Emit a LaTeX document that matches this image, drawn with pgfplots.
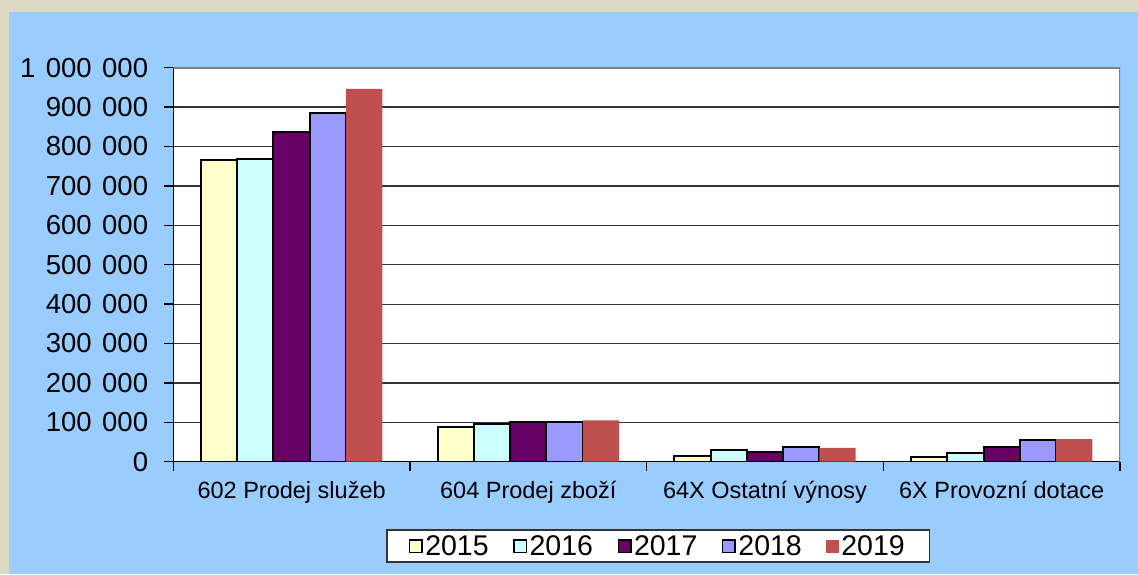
\documentclass[border=0pt]{standalone}
\usepackage{pgfplots}
\pgfplotsset{compat=1.18}
\usepackage{fontspec}
\setmainfont{Liberation Sans}

\definecolor{frame}{HTML}{DDD8C2}
\definecolor{sky}{HTML}{99CCFF}
\definecolor{c2015}{HTML}{FFFFCC}
\definecolor{c2016}{HTML}{CCFFFF}
\definecolor{c2017}{HTML}{660066}
\definecolor{c2018}{HTML}{9999FF}
\definecolor{c2019}{HTML}{C0504D}

\newcommand{\gap}{\hspace{0.38em}}

\begin{document}
\begin{tikzpicture}[x=1pt,y=1pt]
\useasboundingbox (0,0) rectangle (1138,574);
\fill[frame] (0,0) rectangle (1138,574);
\fill[sky] (9,0) rectangle (1138,561.5);
\begin{axis}[
    at={(173.3pt,112.3pt)}, anchor=south west,
    scale only axis, width=946.7pt, height=394pt,
    ybar=0pt, bar width=36.3pt,
    xmin=-0.5, xmax=3.5, ymin=0, ymax=1000000,
    axis background/.style={fill=white},
    axis x line*=bottom, axis y line*=left,
    axis line style={black, line width=1.3pt},
    tick align=outside, major tick length=9pt,
    tick style={black, line width=1.3pt},
    xtick={-0.5,0.5,1.5,2.5,3.5}, xticklabels={},
    extra x ticks={0,1,2,3},
    extra x tick labels={602 Prodej služeb, 604 Prodej zboží, 64X Ostatní výnosy, 6X Provozní dotace},
    extra x tick style={major tick length=0pt, grid=none},
    xticklabel style={font=\fontsize{23.5}{26}\selectfont, inner sep=0pt},
    scaled y ticks=false,
    ytick={0,100000,200000,300000,400000,500000,600000,700000,800000,900000,1000000},
    yticklabels={0, 100\gap000, 200\gap000, 300\gap000, 400\gap000, 500\gap000, 600\gap000, 700\gap000, 800\gap000, 900\gap000, 1\gap000\gap000},
    yticklabel style={font=\fontsize{27.5}{30}\selectfont, inner sep=0pt},
    y tick label style={xshift=-16pt},
    x tick label style={yshift=-19pt},
    ymajorgrids, grid style={black!80, line width=1.2pt},
    legend columns=5,
    legend image code/.code={\path[#1, line width=1.5pt] (0pt,-6.5pt) rectangle (12.5pt,6pt);},
    legend style={at={(axis description cs:0.512,-0.214)}, anchor=center,
        draw=black!80, line width=1.5pt, fill=white,
        font=\fontsize{28.5}{31}\selectfont,
        inner xsep=22pt, inner ysep=3.5pt,
        nodes={inner xsep=2.5pt, inner ysep=2pt},
        /tikz/every even column/.append style={column sep=22pt}},
]
\addplot[draw=black, line width=2pt, fill=c2015] coordinates {(0,765000) (1,87000) (2,15500) (3,11000)};
\addplot[draw=black, line width=2pt, fill=c2016] coordinates {(0,769000) (1,96500) (2,30000) (3,22500)};
\addplot[draw=black, line width=2pt, fill=c2017] coordinates {(0,837000) (1,101500) (2,25500) (3,37500)};
\addplot[draw=black, line width=2pt, fill=c2018] coordinates {(0,885000) (1,100500) (2,38000) (3,55500)};
\addplot[draw=none, fill=c2019] coordinates {(0,946500) (1,105000) (2,35000) (3,57500)};
\legend{2015,2016,2017,2018,2019}
\draw[black!50, line width=2pt] (rel axis cs:0,1) -- (rel axis cs:1,1) -- (rel axis cs:1,0);
\end{axis}
\end{tikzpicture}
\end{document}
